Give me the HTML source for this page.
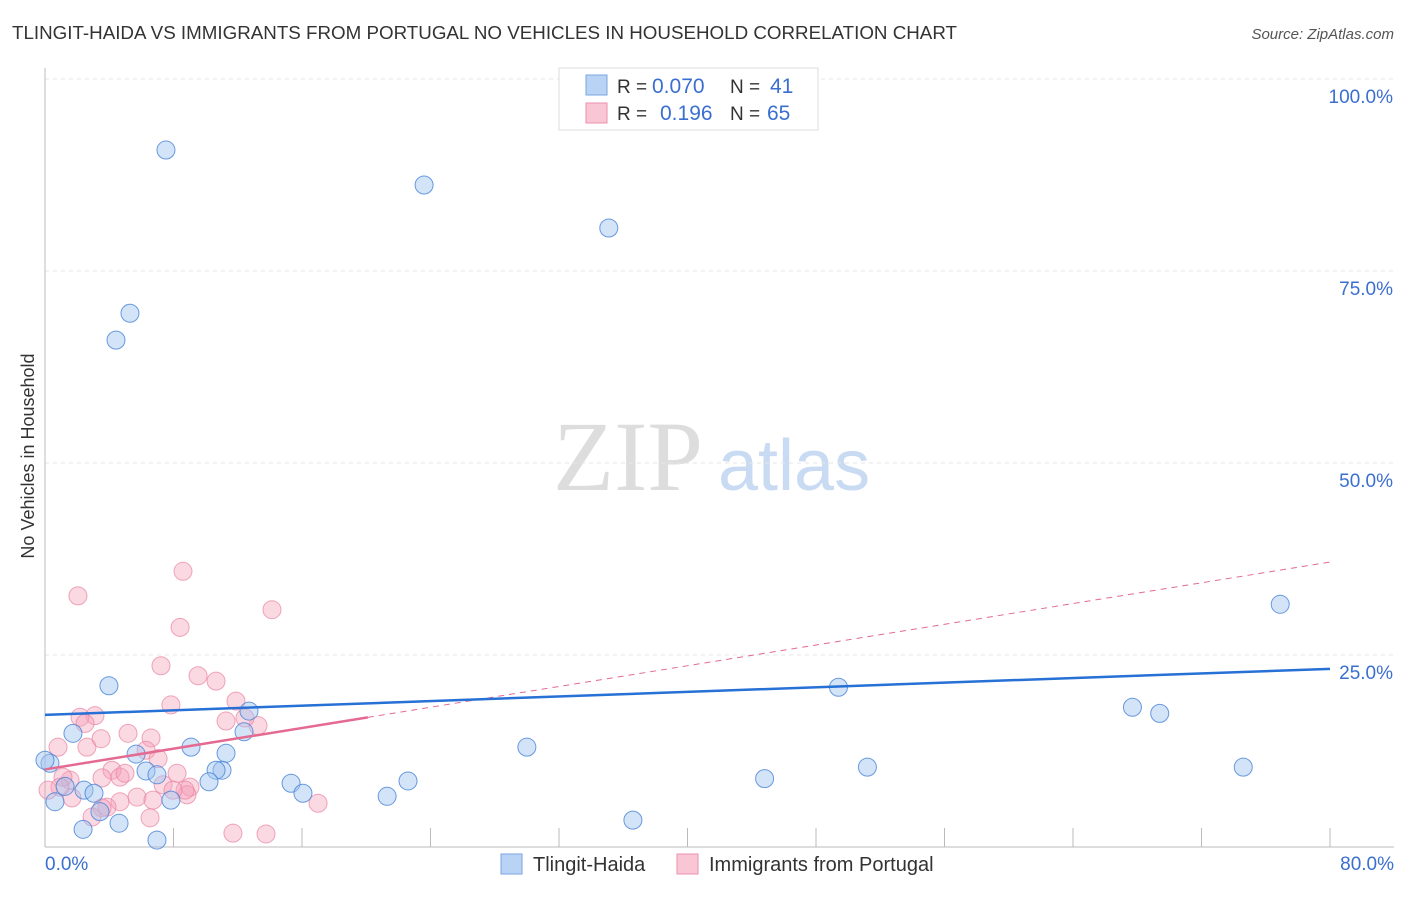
<!DOCTYPE html>
<html><head><meta charset="utf-8"><style>
body{margin:0;background:#fff;font-family:"Liberation Sans",sans-serif;}
</style></head><body>
<svg id="chart" width="1406" height="892" font-family="Liberation Sans, sans-serif">
<text x="12" y="39" font-size="18" fill="#333" textLength="945" lengthAdjust="spacingAndGlyphs">TLINGIT-HAIDA VS IMMIGRANTS FROM PORTUGAL NO VEHICLES IN HOUSEHOLD CORRELATION CHART</text>
<text x="1394" y="39" font-size="15" fill="#555" text-anchor="end" font-style="italic">Source: ZipAtlas.com</text>
<text x="34" y="456" font-size="18" fill="#333" text-anchor="middle" transform="rotate(-90 34 456)">No Vehicles in Household</text>
<text x="553" y="490" font-size="100" fill="#ddd" style="font-family:'Liberation Serif',serif">ZIP</text>
<text x="718" y="490" font-size="72" fill="#c9daf3">atlas</text>
<g id="grid"></g><g id="pts"></g><g id="lines"></g>
<g>
<rect x="559" y="68" width="259" height="62" fill="#fff" stroke="#ddd"/>
<rect x="586" y="75" width="21" height="20" fill="#b9d3f5" stroke="#7aa6e0"/>
<rect x="586" y="103" width="21" height="20" fill="#f9c6d5" stroke="#ec92ad"/>
<text y="93" font-size="19" fill="#333"><tspan x="617">R =</tspan><tspan x="652" fill="#3a6fd0" font-size="21">0.070</tspan><tspan x="730">N =</tspan><tspan x="770" fill="#3a6fd0" font-size="21">41</tspan></text>
<text y="120" font-size="19" fill="#333"><tspan x="617">R =</tspan><tspan x="660" fill="#3a6fd0" font-size="21">0.196</tspan><tspan x="730">N =</tspan><tspan x="767" fill="#3a6fd0" font-size="21">65</tspan></text>
</g>
<g>
<rect x="501" y="854" width="21" height="20" fill="#b9d3f5" stroke="#7aa6e0"/>
<text x="533" y="871" font-size="20" fill="#333">Tlingit-Haida</text>
<rect x="677" y="854" width="21" height="20" fill="#f9c6d5" stroke="#ec92ad"/>
<text x="709" y="871" font-size="20" fill="#333">Immigrants from Portugal</text>
</g>
</svg>
<script>
const yTicks=[25,50,75,100];
const yTickLabels=["25.0%","50.0%","75.0%","100.0%"];
const xTicks=[0,8,16,24,32,40,48,56,64,72,80];
const blueX=[7.53,23.6,35.1,5.29,4.42,3.98,76.9,49.4,67.7,69.4,74.6,51.2,44.8,30.0,22.6,21.3,36.6,1.74,5.67,9.09,6.29,6.97,11.27,11.02,10.65,10.21,12.39,12.70,15.32,16.06,7.84,2.43,3.05,1.25,0.62,0.31,2.37,4.61,6.97,3.42,0];
const blueY=[90.75,86.2,80.6,69.5,66.0,21.0,31.6,20.8,18.2,17.4,10.4,10.4,8.9,13.0,8.6,6.6,3.5,14.8,12.1,13.0,9.9,9.4,12.2,10.0,10.0,8.5,15.0,17.7,8.3,7.0,6.1,7.4,7.0,7.9,5.9,10.9,2.3,3.1,0.9,4.6,11.3];
const pinkX=[2.05,8.59,8.41,14.13,7.22,9.53,10.65,11.89,7.84,11.27,13.26,12.45,3.11,2.18,2.49,3.49,2.61,0.81,5.17,6.60,6.29,7.04,8.22,4.17,4.67,4.98,3.55,1.56,1.12,7.35,9.03,8.84,8.72,5.73,4.67,3.86,3.55,2.93,1.68,6.72,6.54,17.0,11.7,13.76,0.93,0.19,7.97];
const pinkY=[32.7,35.9,28.6,30.9,23.6,22.3,21.6,19.0,18.5,16.4,15.8,16.8,17.1,16.9,16.1,14.1,13.0,13.0,14.8,14.2,12.6,11.5,9.6,10.0,9.1,9.6,9.0,8.7,9.1,8.1,7.8,6.8,7.4,6.5,5.9,5.2,5.1,3.9,6.4,6.1,3.8,5.7,1.8,1.7,7.8,7.4,7.4];
const blueLine=[17.2,23.2];
const pinkLine=[10.1,37.1];
const pinkSolidEnd=20.1;
const NS="http://www.w3.org/2000/svg";
const X=v=>45+v/80*1285, Y=v=>847-v/100*768;
function mk(tag,attrs,parent){const e=document.createElementNS(NS,tag);for(const k in attrs)e.setAttribute(k,attrs[k]);parent.appendChild(e);return e;}
const grid=document.getElementById('grid');
yTicks.forEach((t,i)=>{
 const l=mk('line',{x1:45,x2:1394,y1:Y(t),y2:Y(t),stroke:'#e6e6e6','stroke-dasharray':'4,4'},grid);
 
 
 const tx=mk('text',{x:1393,y:Y(t)+24,'font-size':19,fill:'#3a6fd0','text-anchor':'end'},grid);
 tx.textContent=yTickLabels[i];
 
 
});
const ax=mk('line',{x1:45,x2:45,y1:68,y2:847,stroke:'#bbb'},grid);


const bx=mk('line',{x1:45,x2:1394,y1:847,y2:847,stroke:'#bbb'},grid);


xTicks.forEach(t=>{const l=mk('line',{x1:X(t),x2:X(t),y1:828,y2:847,stroke:'#bbb'},grid);
 
 });
[[0,'0.0%','start',45],[80,'80.0%','end',1394]].forEach(a=>{const t=mk('text',{x:a[3],y:870,'font-size':19,fill:'#3a6fd0','text-anchor':a[2]},grid);t.textContent=a[1];
 
 });
const pts=document.getElementById('pts');
pinkX.forEach((v,i)=>{const c=mk('circle',{cx:X(v),cy:Y(pinkY[i]),r:9,fill:'rgba(244,160,186,0.4)',stroke:'rgba(232,130,160,0.7)','stroke-width':1},pts);
 
 });
blueX.forEach((v,i)=>{const c=mk('circle',{cx:X(v),cy:Y(blueY[i]),r:9,fill:'rgba(160,196,240,0.45)',stroke:'rgba(70,130,215,0.8)','stroke-width':1},pts);
 
 });
const lines=document.getElementById('lines');
const pl=v=>pinkLine[0]+(pinkLine[1]-pinkLine[0])*v/80;
const d=mk('line',{x1:X(pinkSolidEnd),y1:Y(pl(pinkSolidEnd)),x2:X(80),y2:Y(pinkLine[1]),stroke:'#e46a92','stroke-width':1,'stroke-dasharray':'6,5'},lines);


const s=mk('line',{x1:X(0),y1:Y(pinkLine[0]),x2:X(pinkSolidEnd),y2:Y(pl(pinkSolidEnd)),stroke:'#e46a92','stroke-width':2.5},lines);


const b=mk('line',{x1:X(0),y1:Y(blueLine[0]),x2:X(80),y2:Y(blueLine[1]),stroke:'#2670d6','stroke-width':2.5},lines);


</script>
</body></html>
